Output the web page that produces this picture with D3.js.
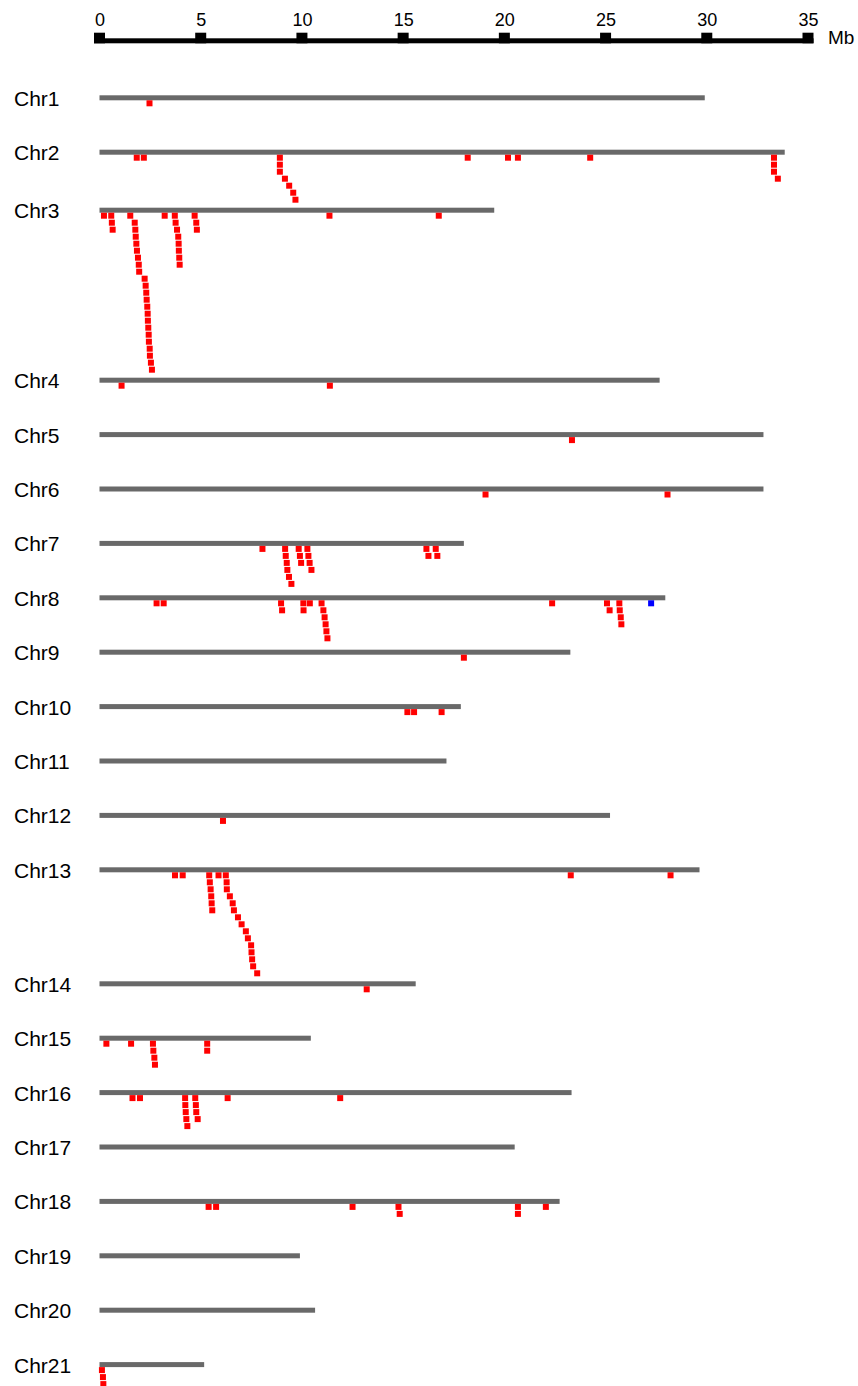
<!DOCTYPE html>
<html>
<head>
<meta charset="utf-8">
<script src="https://cdn.jsdelivr.net/npm/d3@7/dist/d3.min.js"></script>
<style>
    html, body { margin: 0; padding: 0; background: #fff; }
    svg { display: block; }
</style>
</head>
<body>
<div id="container-result"></div>
<script>
const chrNames = ["Chr1", "Chr2", "Chr3", "Chr4", "Chr5", "Chr6", "Chr7", "Chr8", "Chr9", "Chr10", "Chr11",
    "Chr12", "Chr13", "Chr14", "Chr15", "Chr16", "Chr17", "Chr18", "Chr19", "Chr20", "Chr21"];

// chromosome lengths, Mb
const chrLengths = [29.9, 33.85, 19.5, 27.67, 32.8, 32.8, 18.0, 27.95, 23.26, 17.85, 17.14,
    25.22, 29.64, 15.62, 10.44, 23.32, 20.51, 22.73, 9.9, 10.65, 5.17];

// red markers, Mb (one list per chromosome)
const redMarkers = [
    [2.47],
    [1.84, 2.19, 8.91, 8.91, 8.91, 9.16, 9.37, 9.57, 9.68, 18.19, 20.18, 20.67, 24.24, 33.32, 33.32, 33.32, 33.51],
    [0.22, 0.58, 0.61, 0.65, 1.52, 1.74, 1.77, 1.79, 1.82, 1.85, 1.9, 1.94, 1.96, 2.23, 2.28, 2.31, 2.33,
        2.36, 2.38, 2.39, 2.41, 2.43, 2.44, 2.48, 2.49, 2.54, 2.59, 3.22, 3.72, 3.76, 3.83, 3.89, 3.91, 3.92,
        3.94, 3.96, 4.7, 4.78, 4.81, 11.36, 16.76],
    [1.09, 11.38],
    [23.34],
    [19.07, 28.06],
    [8.05, 9.17, 9.2, 9.25, 9.28, 9.36, 9.48, 9.84, 9.9, 9.96, 10.27, 10.32, 10.38, 10.47, 16.15, 16.25, 16.61, 16.69],
    [2.82, 3.17, 8.97, 9.02, 10.07, 10.08, 10.39, 10.97, 11.06, 11.12, 11.17, 11.21, 11.26, 22.36, 25.07, 25.2,
        25.68, 25.7, 25.75, 25.78],
    [18.0],
    [15.21, 15.54, 16.9],
    [],
    [6.1],
    [3.73, 4.11, 5.42, 5.45, 5.49, 5.52, 5.54, 5.57, 5.88, 6.24, 6.28, 6.29, 6.44, 6.58, 6.64, 6.84, 7.02, 7.23,
        7.33, 7.49, 7.51, 7.54, 7.59, 7.79, 23.28, 28.21],
    [13.2],
    [0.34, 1.56, 2.64, 2.66, 2.71, 2.74, 5.32, 5.32],
    [1.63, 2.0, 4.23, 4.24, 4.26, 4.29, 4.34, 4.73, 4.76, 4.78, 4.85, 6.33, 11.89],
    [],
    [5.39, 5.76, 12.5, 14.77, 14.83, 20.67, 20.67, 22.05],
    [],
    [],
    [0.12, 0.17, 0.19]
];

// blue markers, Mb
const blueMarkers = [[], [], [], [], [], [], [], [27.25], [], [], [], [], [], [], [], [], [], [], [], [], []];

const scaleTicks = [0, 5, 10, 15, 20, 25, 30, 35];

const [svgW, svgH] = [858, 1386];
const [plotX0, plotX1] = [99.5, 808];
const [firstY, baseGap, lineH] = [97.8, 54.4, 5];
const [markW, markH, rowStep, stackPad] = [6, 6, 7, 7.5];
const font = "'Liberation Sans', Arial, sans-serif";

var x = d3.scaleLinear().domain([0, 35]).range([plotX0, plotX1]);

/*
 sort markers, push a marker one row down when it overlaps the previous one,
 then place each chromosome below the stack of the one above.
 */
function layout() {
    var rows = [];
    var y = firstY;
    chrNames.forEach(function (name, i) {
        var marks = redMarkers[i].map(function (p) { return {pos: p, color: "#ff0000"}; })
            .concat(blueMarkers[i].map(function (p) { return {pos: p, color: "#0000ff"}; }))
            .sort(function (a, b) { return a.pos - b.pos; });
        var prev = null;
        marks.forEach(function (m) {
            m.row = (prev && x(m.pos) - x(prev.pos) < markW) ? prev.row + 1 : 0;
            prev = m;
        });
        var depth = d3.max(marks, function (m) { return m.row + 1; }) || 0;
        rows.push({name: name, length: chrLengths[i], y: y, marks: marks});
        var bottom = y + lineH / 2 + (depth > 0 ? (depth - 1) * rowStep + markH : 0);
        y = Math.max(y + baseGap, bottom + stackPad);
    });
    return rows;
}

function drawScale(svg) {
    var g = svg.append("g").attr("id", "g_scale");
    g.append("rect")
        .attr("x", x(0) - 5.5).attr("y", 38.3)
        .attr("width", x(35) - x(0) + 11).attr("height", 5)
        .attr("fill", "#000");
    g.selectAll("rect.tick").data(scaleTicks).enter()
        .append("rect").attr("class", "tick")
        .attr("x", function (d) { return x(d) - 5.5; }).attr("y", 32.7)
        .attr("width", 11).attr("height", 10.6)
        .attr("fill", "#000");

    var axis = svg.append("g").attr("transform", "translate(0,25.5)")
        .call(d3.axisTop(x).tickValues(scaleTicks).tickSize(0).tickPadding(0));
    axis.select(".domain").remove();
    axis.selectAll("text")
        .attr("font-family", font).attr("font-size", 18).attr("fill", "#000");

    svg.append("text").attr("x", 828).attr("y", 43.5)
        .attr("font-family", font).attr("font-size", 19).attr("fill", "#000")
        .text("Mb");
}

function drawChromosomes(svg, rows) {
    var chr = svg.append("g").attr("id", "g_chr").selectAll("g").data(rows).enter().append("g");

    chr.append("text")
        .attr("x", 14).attr("y", function (d) { return d.y + 8; })
        .attr("font-family", font).attr("font-size", 21).attr("fill", "#000")
        .text(function (d) { return d.name; });

    chr.append("rect")
        .attr("x", x(0))
        .attr("y", function (d) { return d.y - lineH / 2; })
        .attr("width", function (d) { return x(d.length) - x(0); })
        .attr("height", lineH)
        .attr("fill", "#696969");

    chr.selectAll("rect.mark").data(function (d) {
        return d.marks.map(function (m) { return {pos: m.pos, row: m.row, color: m.color, y: d.y}; });
    }).enter().append("rect").attr("class", "mark")
        .attr("x", function (m) { return x(m.pos) - markW / 2; })
        .attr("y", function (m) { return m.y + lineH / 2 + m.row * rowStep; })
        .attr("width", markW).attr("height", markH)
        .attr("fill", function (m) { return m.color; });
}

function main() {
    var svg = d3.select("#container-result")
        .append("svg").attr("width", svgW).attr("height", svgH);
    svg.append("rect").attr("width", svgW).attr("height", svgH).attr("fill", "#fff");
    drawScale(svg);
    drawChromosomes(svg, layout());
}

main();
</script>
</body>
</html>
